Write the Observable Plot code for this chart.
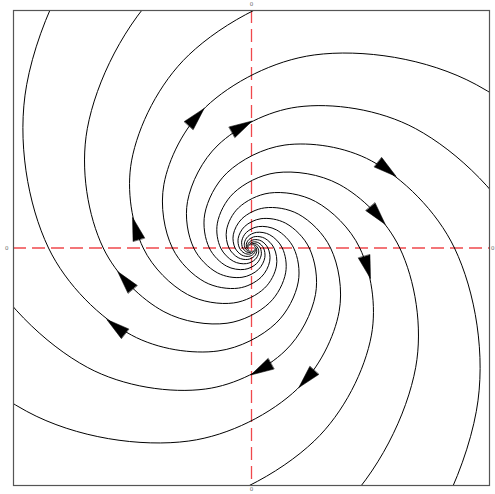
<!DOCTYPE html>
<html>
<head>
<meta charset="utf-8">
<script src="https://cdn.jsdelivr.net/npm/d3@7"></script>
<script src="https://cdn.jsdelivr.net/npm/@observablehq/plot@0.6"></script>
<style>
  html, body { margin: 0; padding: 0; background: #ffffff; }
  #chart { width: 495px; height: 494px; overflow: hidden; }
</style>
</head>
<body>
<div id="chart"></div>
<script>
const trajA10 = [[520.9,0],[307.81,223.64],[85.87,264.29],[-62.72,193.04],[-119.94,87.14],[-108.28,0],[-63.99,-46.49],[-17.85,-54.94],[13.04,-40.13],[24.93,-18.12],[22.51,0],[13.30,9.66],[3.71,11.42],[-2.71,8.34],[-5.18,3.77],[-4.68,0],[-2.77,-2.01]];
const trajA1 = [[421.42,-306.18],[380.47,0],[224.82,163.34],[62.72,193.04],[-45.81,140.99],[-87.60,63.65],[-79.09,0],[-46.74,-33.96],[-13.04,-40.13],[9.52,-29.31],[18.21,-13.23],[16.44,0],[9.72,7.06],[2.71,8.34],[-1.98,6.09],[-3.79,2.75],[-3.42,0]];
const trajA2 = [[160.97,-495.41],[307.81,-223.64],[277.89,0],[164.21,119.30],[45.81,140.99],[-33.46,102.98],[-63.99,46.49],[-57.77,0],[-34.14,-24.80],[-9.52,-29.31],[6.96,-21.41],[13.30,-9.66],[12.01,0],[7.10,5.16],[1.98,6.09],[-1.45,4.45],[-2.77,2.01]];
const trajA3 = [[-160.97,-495.41],[117.57,-361.85],[224.82,-163.34],[202.97,0],[119.94,87.14],[33.46,102.98],[-24.44,75.22],[-46.74,33.96],[-42.20,0],[-24.93,-18.12],[-6.96,-21.41],[5.08,-15.64],[9.72,-7.06],[8.77,0],[5.18,3.77],[1.45,4.45],[-1.06,3.25]];
const trajA4 = [[-421.42,-306.18],[-117.57,-361.85],[85.87,-264.29],[164.21,-119.30],[148.25,0],[87.60,63.65],[24.44,75.22],[-17.85,54.94],[-34.14,24.80],[-30.82,0],[-18.21,-13.23],[-5.08,-15.64],[3.71,-11.42],[7.10,-5.16],[6.41,0],[3.79,2.75],[1.06,3.25]];
const trajA5 = [[-520.9,0],[-307.81,-223.64],[-85.87,-264.29],[62.72,-193.04],[119.94,-87.14],[108.28,0],[63.99,46.49],[17.85,54.94],[-13.04,40.13],[-24.93,18.12],[-22.51,0],[-13.30,-9.66],[-3.71,-11.42],[2.71,-8.34],[5.18,-3.77],[4.68,0],[2.77,2.01]];
const trajA6 = [[-421.42,306.18],[-380.47,0],[-224.82,-163.34],[-62.72,-193.04],[45.81,-140.99],[87.60,-63.65],[79.09,0],[46.74,33.96],[13.04,40.13],[-9.52,29.31],[-18.21,13.23],[-16.44,0],[-9.72,-7.06],[-2.71,-8.34],[1.98,-6.09],[3.79,-2.75],[3.42,0]];
const trajA7 = [[-160.97,495.41],[-307.81,223.64],[-277.89,0],[-164.21,-119.30],[-45.81,-140.99],[33.46,-102.98],[63.99,-46.49],[57.77,0],[34.14,24.80],[9.52,29.31],[-6.96,21.41],[-13.30,9.66],[-12.01,0],[-7.10,-5.16],[-1.98,-6.09],[1.45,-4.45],[2.77,-2.01]];
const trajA8 = [[160.97,495.41],[-117.57,361.85],[-224.82,163.34],[-202.97,0],[-119.94,-87.14],[-33.46,-102.98],[24.44,-75.22],[46.74,-33.96],[42.20,0],[24.93,18.12],[6.96,21.41],[-5.08,15.64],[-9.72,7.06],[-8.77,0],[-5.18,-3.77],[-1.45,-4.45],[1.06,-3.25]];
const trajA9 = [[421.42,306.18],[117.57,361.85],[-85.87,264.29],[-164.21,119.30],[-148.25,0],[-87.60,-63.65],[-24.44,-75.22],[17.85,-54.94],[34.14,-24.80],[30.82,0],[18.21,13.23],[5.08,15.64],[-3.71,11.42],[-7.10,5.16],[-6.41,0],[-3.79,-2.75],[-1.06,-3.25]];

// Direction arrows: tip position and heading (degrees, counter-clockwise from +x)
const arrowX = [-47.3, 0.7, 144.7, 133.8, 119.0, 47.3, -0.7, -144.7, -133.8, -119.0];
const arrowY = [139.6, 127.0, 71.5, 23.6, -30.6, -139.6, -127.0, -71.5, -23.6, 30.6];
const arrowHeading = [48, 29, -38, -50, -74, 228, 209, 142, 130, 106];

// Reference lines and tick labels
const axisTicks = [0];

const trajectories = [trajA10, trajA1, trajA2, trajA3, trajA4, trajA5, trajA6, trajA7, trajA8, trajA9];
const lineData = trajectories.flatMap((pts, k) => pts.map(([x, y]) => ({traj: k, x, y})));
const arrowData = arrowX.map((x, i) => ({x, y: arrowY[i], rot: 90 - arrowHeading[i]}));

const headShape = {
  draw(context, l, r) {
    context.moveTo(-r, 0);
    context.lineTo(0, -l);
    context.lineTo(r, 0);
    context.closePath();
  }
};

const axisStyle = {tickSize: 0, fontSize: 5.5, label: null, color: "#666"};

const chart = Plot.plot({
  width: 495,
  height: 494,
  marginLeft: 13,
  marginRight: 6,
  marginTop: 10,
  marginBottom: 9,
  x: {domain: [-238, 238]},
  y: {domain: [-237.5, 237.5]},
  style: {background: "#ffffff", fontFamily: "'DejaVu Sans', sans-serif"},
  marks: [
    Plot.ruleX(axisTicks, {stroke: "#f0484c", strokeWidth: 1.3, strokeDasharray: "13,6"}),
    Plot.ruleY(axisTicks, {stroke: "#f0484c", strokeWidth: 1.3, strokeDasharray: "13,6"}),
    Plot.line(lineData, {x: "x", y: "y", z: "traj", curve: "catmull-rom", stroke: "black", strokeWidth: 1, clip: true}),
    Plot.vector(arrowData, {x: "x", y: "y", rotate: "rot", length: 23, r: 6, anchor: "end", shape: headShape, fill: "black", stroke: "black", strokeWidth: 0.5}),
    Plot.frame({stroke: "#555", strokeWidth: 1.2}),
    Plot.axisX(axisTicks, {anchor: "top", tickPadding: 5, ...axisStyle}),
    Plot.axisX(axisTicks, {anchor: "bottom", tickPadding: 1.5, ...axisStyle}),
    Plot.axisY(axisTicks, {anchor: "left", tickPadding: 5, ...axisStyle}),
    Plot.axisY(axisTicks, {anchor: "right", tickPadding: 1.5, ...axisStyle})
  ]
});
document.getElementById("chart").append(chart);
</script>
</body>
</html>
